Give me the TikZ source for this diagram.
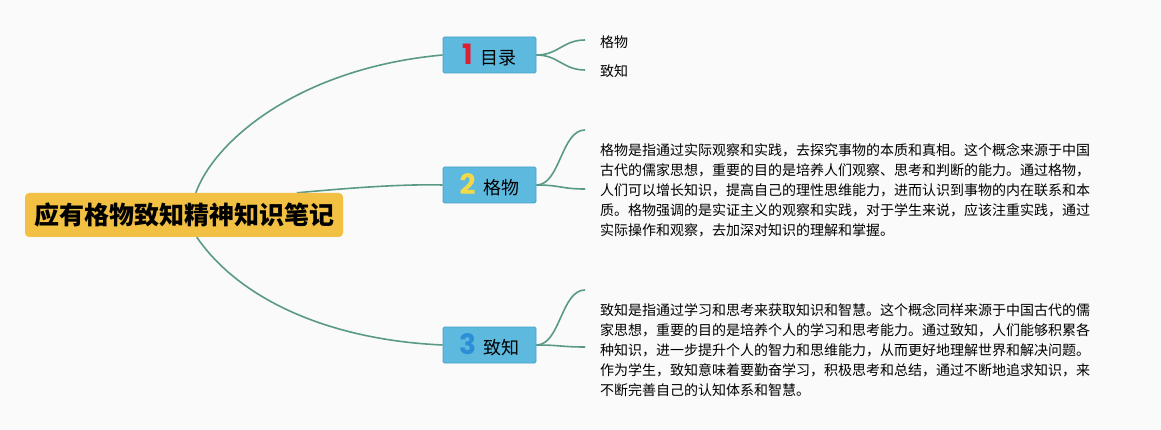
\documentclass[tikz,border=0pt]{standalone}
\usepackage{fontspec}
\usetikzlibrary{backgrounds}
\setmainfont{Noto Sans CJK SC}
\newfontfamily\numfont{Poppins}
\definecolor{bgcol}{HTML}{FAFAFA}
\definecolor{rootfill}{HTML}{F2C043}
\definecolor{boxfill}{HTML}{5DB9DE}
\definecolor{boxdraw}{HTML}{4AA2C6}
\definecolor{linkcol}{HTML}{5A9A84}
\definecolor{numred}{HTML}{DC1F33}
\definecolor{numyellow}{HTML}{F3D94A}
\definecolor{numblue}{HTML}{2A8ED8}
\begin{document}
\begin{tikzpicture}[x=1pt,y=-1pt,
  rootbox/.style={fill=rootfill, rounded corners=4pt, minimum width=318pt, minimum height=44pt, inner sep=0pt,
    font=\fontsize{25}{30}\selectfont\bfseries},
  topicbox/.style={fill=boxfill, draw=boxdraw, line width=0.8pt, rounded corners=1.5pt, minimum width=93pt, minimum height=36pt, inner sep=0pt,
    font=\fontsize{18}{20}\selectfont},
  numtext/.style={font=\numfont\fontsize{28}{28}\selectfont\bfseries},
  link/.style={draw=linkcol, line width=1.6pt},
  leaf/.style={anchor=west, inner sep=0pt, font=\fontsize{14}{20}\selectfont},
  body/.style={anchor=north west, inner sep=0pt, align=left, font=\fontsize{14}{20}\selectfont}]
\useasboundingbox (0,0) rectangle (1161,430);

\node[rootbox] (root) at (184,215) {应有格物致知精神知识笔记};
\node[topicbox] (n1) at (489.5,55) {\textcolor{numred}{\numfont\fontsize{28}{28}\selectfont\bfseries 1}\hspace{8pt}目录};
\node[topicbox] (n2) at (489.5,185) {\textcolor{numyellow}{\numfont\fontsize{28}{28}\selectfont\bfseries 2}\hspace{8pt}格物};
\node[topicbox] (n3) at (489.5,345) {\textcolor{numblue}{\numfont\fontsize{28}{28}\selectfont\bfseries 3}\hspace{8pt}致知};

\coordinate (l1a) at (585,40);
\coordinate (l1b) at (585,70);
\coordinate (l2a) at (585,130);
\coordinate (l2b) at (585,189);
\coordinate (l3a) at (585,290);
\coordinate (l3b) at (585,347);

\node[leaf] (t1a) at (600,42) {格物};
\node[leaf] (t1b) at (600,71) {致知};
\node[body] (t2) at (600,143) {格物是指通过实际观察和实践，去探究事物的本质和真相。这个概念来源于中国\\
古代的儒家思想，重要的目的是培养人们观察、思考和判断的能力。通过格物，\\
人们可以增长知识，提高自己的理性思维能力，进而认识到事物的内在联系和本\\
质。格物强调的是实证主义的观察和实践，对于学生来说，应该注重实践，通过\\
实际操作和观察，去加深对知识的理解和掌握。};
\node[body] (t3) at (600,303) {致知是指通过学习和思考来获取知识和智慧。这个概念同样来源于中国古代的儒\\
家思想，重要的目的是培养个人的学习和思考能力。通过致知，人们能够积累各\\
种知识，进一步提升个人的智力和思维能力，从而更好地理解世界和解决问题。\\
作为学生，致知意味着要勤奋学习，积极思考和总结，通过不断地追求知识，来\\
不断完善自己的认知体系和智慧。};

\begin{scope}[on background layer]
\fill[bgcol] (0,0) rectangle (1161,430);
\draw[link] ([xshift=171pt]root.north west) .. controls (215,140) and (300,68) .. (n1.west);
\draw[link] ([xshift=272pt]root.north west) .. controls (350,188) and (400,184) .. (n2.west);
\draw[link] ([xshift=172pt]root.south west) .. controls (240,300) and (330,340) .. (n3.west);

\draw[link] (n1.east) .. controls +(22,0) and +(-22,0) .. (l1a);
\draw[link] (n1.east) .. controls +(22,0) and +(-22,0) .. (l1b);
\draw[link] (n2.east) .. controls +(24,0) and +(-24,0) .. (l2a);
\draw[link] (n2.east) .. controls +(24,0) and +(-24,0) .. (l2b);
\draw[link] (n3.east) .. controls +(24,0) and +(-24,0) .. (l3a);
\draw[link] (n3.east) .. controls +(24,0) and +(-24,0) .. (l3b);
\end{scope}
\end{tikzpicture}
\end{document}
